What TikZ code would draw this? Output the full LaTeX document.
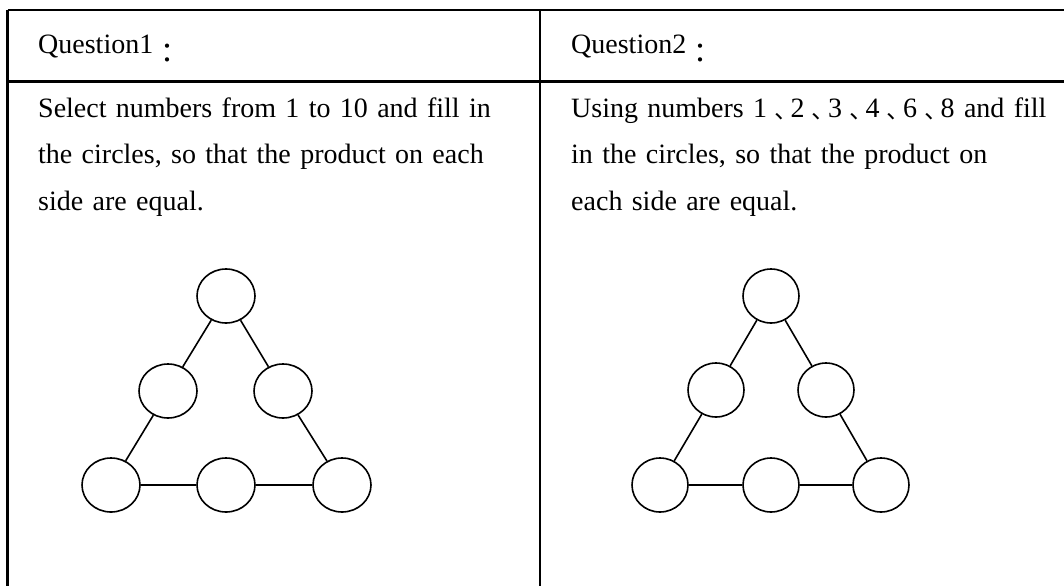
\documentclass[tikz,border=0pt]{standalone}
\usepackage{fontspec}
\setmainfont{Liberation Serif}
\newfontfamily\cjk{Noto Sans CJK TC}
\newcommand{\fw}[1]{\raisebox{-0.33em}{\cjk #1}}
\newcommand{\dun}{\raisebox{-0.3em}{\cjk\fontsize{23.5}{23.5}\selectfont 、}}
\usepackage{tikz}
\usetikzlibrary{positioning,shapes.geometric}

\begin{document}
\begin{tikzpicture}[x=1pt, y=-1pt, main/.style = {ellipse, draw, fill=white, line width=1.6pt, minimum width=58pt, minimum height=54pt, inner sep=0pt}, every edge/.append style={line width=1.6pt}, grid/.style={line width=2.2pt}, txt/.style={anchor=base west, inner sep=0pt, font=\fontsize{28}{46.5}\selectfont}]

\useasboundingbox (0,0) rectangle (1064,586);

% table
\draw[grid] (7.5,10) -- (1064,10);
\draw[grid] (7.5,81.5) -- (1064,81.5);
\draw[grid] (7.5,10) -- (7.5,586);
\draw[grid] (540,10) -- (540,586);

% texts
\node[txt] (q1) at (38,54) {Question1\fw{：}};
\node[txt] (q2) at (571,54) {Question2\fw{：}};
\node[txt, text width=490pt, align=left] (t1) at (38,117) {Select numbers from 1 to 10 and fill in\\the circles, so that the product on each\\side are equal.};
\node[txt, text width=490pt, align=left] (t2) at (571,117) {Using numbers 1\dun2\dun3\dun4\dun6\dun8 and fill\\in the circles, so that the product on\\each side are equal.};

\begin{scope}[shift = {(226,296)}]
\node[main] (t) at (0,0) {};
\node[main] (l) at (-58,95) {};
\node[main] (r) at (57,95) {};
\node[main] (bl) at (-115,189) {};
\node[main] (bm) at (0,189) {};
\node[main] (br) at (116,189) {};

\path
 (t) edge (l)
 (l) edge (bl)
 (t) edge (r)
 (r) edge (br)
 (bl) edge (bm)
 (bm) edge (br);
\end{scope}

\begin{scope}[shift = {(771,296)}, main/.append style={minimum width=56pt}]
\node[main] (t) at (0,0) {};
\node[main] (l) at (-55,94) {};
\node[main] (r) at (55,94) {};
\node[main] (bl) at (-111,189) {};
\node[main] (bm) at (0,189) {};
\node[main] (br) at (110,189) {};

\path
 (t) edge (l)
 (l) edge (bl)
 (t) edge (r)
 (r) edge (br)
 (bl) edge (bm)
 (bm) edge (br);
\end{scope}
\end{tikzpicture}
\end{document}
